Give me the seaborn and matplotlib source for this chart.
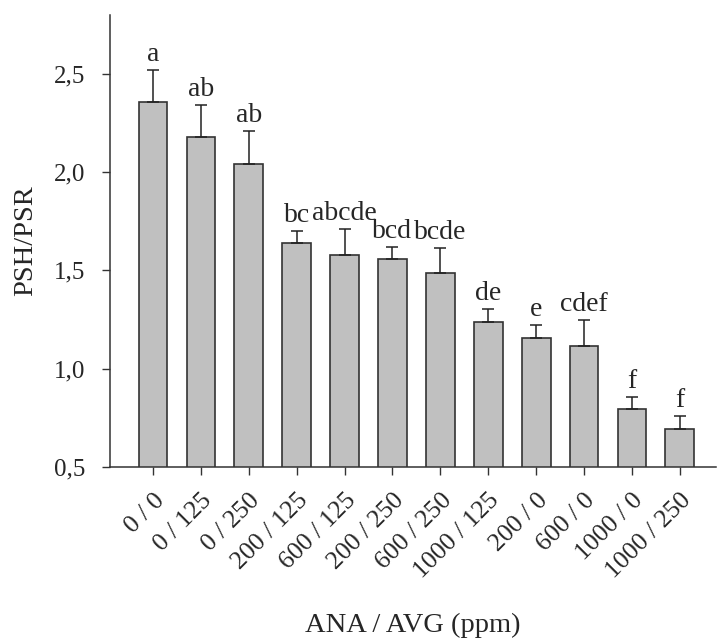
import numpy as np
import pandas as pd
import seaborn as sns
import matplotlib
matplotlib.use("Agg")
import matplotlib.pyplot as plt

# dados
tratamentos = ["0 / 0", "0 / 125", "0 / 250", "200 / 125", "600 / 125", "200 / 250",
               "600 / 250", "1000 / 125", "200 / 0", "600 / 0", "1000 / 0", "1000 / 250"]
psh_psr = [2.354, 2.177, 2.043, 1.638, 1.579, 1.556, 1.487, 1.239, 1.156, 1.114, 0.797, 0.695]
erro = [0.167, 0.164, 0.165, 0.064, 0.132, 0.065, 0.129, 0.065, 0.068, 0.134, 0.059, 0.064]
letras = ["a", "ab", "ab", "bc", "abcde", "bcd", "bcde", "de", "e", "cdef", "f", "f"]
yticks = [0.5, 1.0, 1.5, 2.0, 2.5]

sns.set_style("ticks")
plt.rcParams['font.family'] = ['Liberation Serif', 'DejaVu Serif']

df = pd.DataFrame({"trat": tratamentos, "valor": psh_psr, "erro": erro})

fig = plt.figure(figsize=(7.23, 6.41), dpi=100)
ax = fig.add_axes([0.152, 0.2714, 0.838, 0.7056])

sns.barplot(data=df, x="trat", y="valor", order=tratamentos, color="#c0c0c0",
            saturation=1, width=0.6, edgecolor="#333333", linewidth=1.2, ax=ax)

xpos = np.arange(len(tratamentos))
ax.errorbar(xpos, df["valor"], yerr=[np.zeros(len(erro)), df["erro"]], fmt="none",
            ecolor="#222222", elinewidth=1.1, capsize=4.6, capthick=1.1)

for x, v, e, l in zip(xpos, psh_psr, erro, letras):
    ax.annotate(l, (x, v + e), xytext=(0, 2), textcoords="offset points",
                ha="center", va="bottom", fontsize=20)

ax.set_ylim(0.5, 2.8)
ax.set_xlim(-0.9, 11.75)
ax.set_yticks(yticks)
ax.set_yticklabels([f"{t:.1f}".replace(".", ",") for t in yticks], fontsize=18)
ax.set_xticks(xpos)
ax.set_xticklabels(tratamentos, rotation=45, ha="right", rotation_mode="anchor", fontsize=18.5)
ax.tick_params(axis="both", direction="out", length=6, width=1, color="#333333")
ax.tick_params(axis="y", pad=12)
ax.tick_params(axis="x", pad=10)

ax.set_ylabel("PSH/PSR", fontsize=20.5, labelpad=11)
ax.set_xlabel("ANA / AVG (ppm)", fontsize=20.5, labelpad=22)

sns.despine(ax=ax)
for s in ["left", "bottom"]:
    ax.spines[s].set_color("#333333")
    ax.spines[s].set_linewidth(1.1)

fig.savefig("out.png", dpi=100)
